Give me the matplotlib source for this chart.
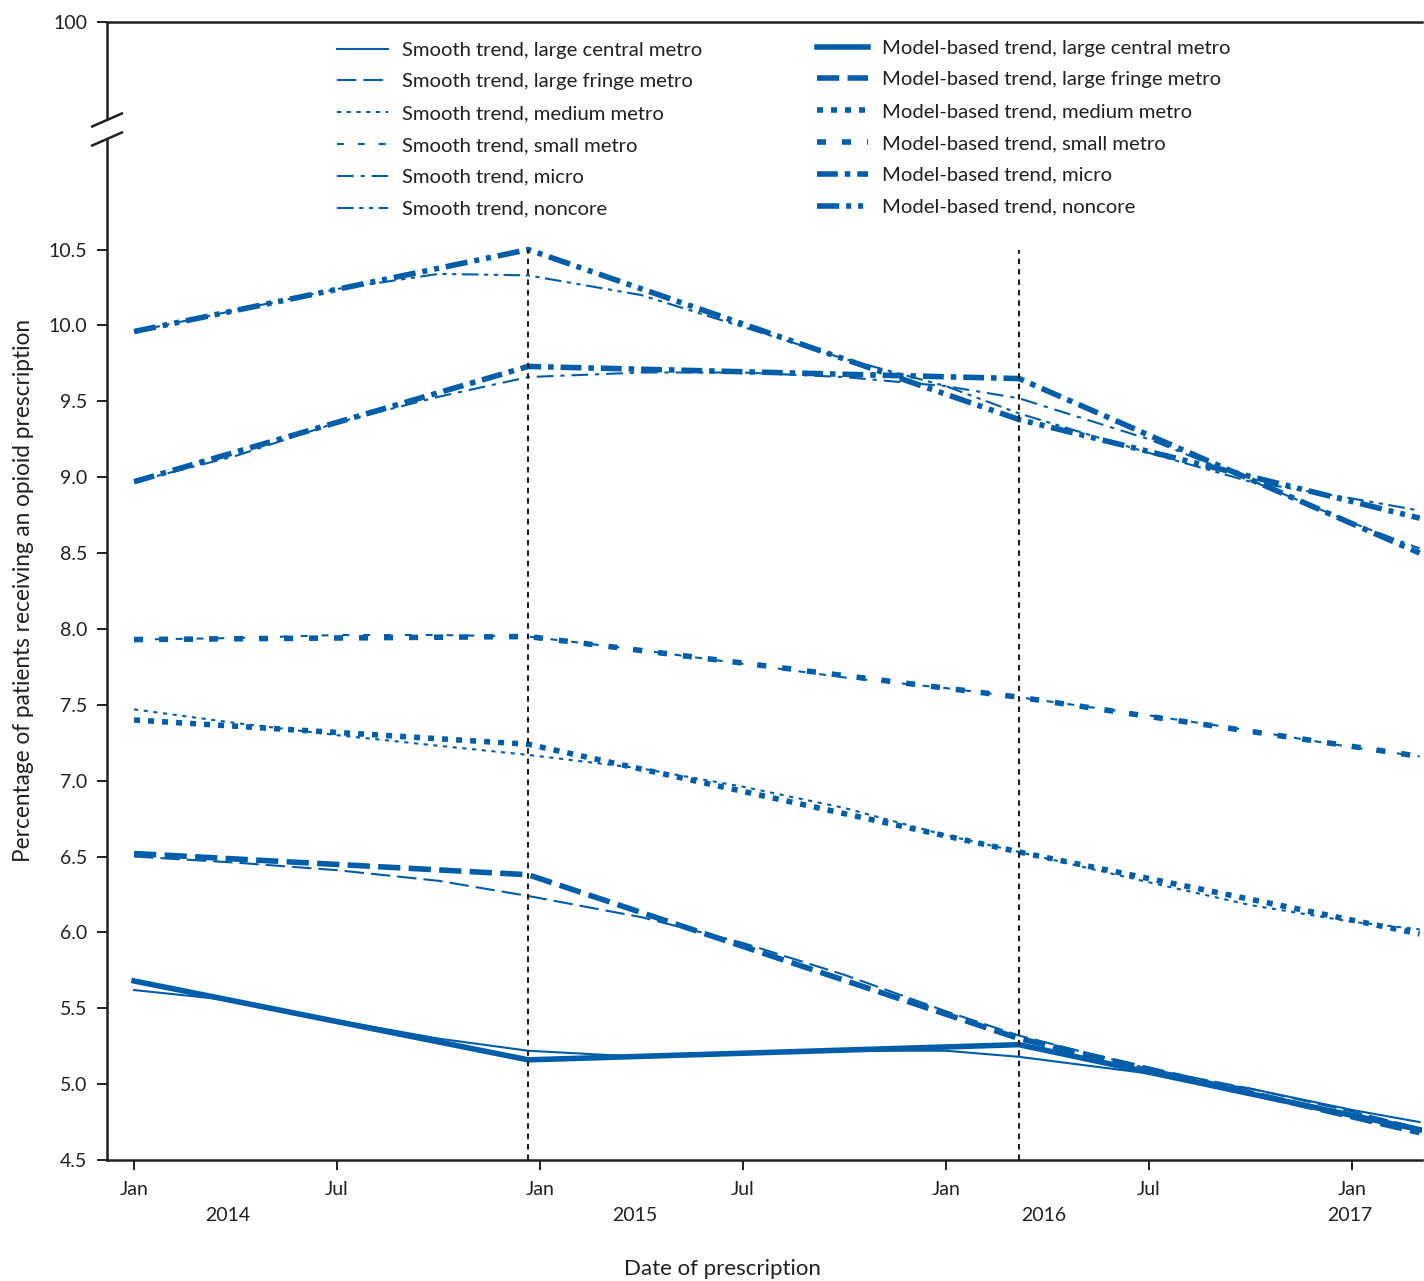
import matplotlib
matplotlib.use('Agg')
import matplotlib.pyplot as plt
import matplotlib.transforms as mtransforms
from matplotlib.lines import Line2D

plt.rcParams['font.family'] = ['Lato', 'DejaVu Sans']
plt.rcParams['lines.scale_dashes'] = False

BLUE = '#005DAA'
INK = '#231F20'

# x = months since January 2014
smooth_months = [0, 3, 6, 9, 11.65, 15, 18, 21, 24, 26.16, 30, 33, 36, 38]
smooth_large_central = [5.62, 5.55, 5.42, 5.30, 5.22, 5.18, 5.20, 5.22, 5.22, 5.18, 5.07, 4.97, 4.83, 4.75]
smooth_large_fringe = [6.50, 6.46, 6.41, 6.34, 6.24, 6.10, 5.93, 5.72, 5.48, 5.32, 5.10, 4.97, 4.82, 4.71]
smooth_medium = [7.47, 7.38, 7.30, 7.23, 7.17, 7.08, 6.96, 6.82, 6.64, 6.53, 6.33, 6.18, 6.07, 6.02]
smooth_small = [7.93, 7.94, 7.96, 7.96, 7.95, 7.86, 7.77, 7.68, 7.61, 7.55, 7.43, 7.33, 7.22, 7.16]
smooth_micro = [8.97, 9.14, 9.36, 9.53, 9.66, 9.69, 9.69, 9.66, 9.60, 9.52, 9.25, 8.98, 8.70, 8.53]
smooth_noncore = [9.96, 10.10, 10.24, 10.34, 10.33, 10.20, 9.99, 9.78, 9.60, 9.42, 9.16, 8.97, 8.86, 8.78]

model_months = [0, 11.65, 26.16, 38]
model_large_central = [5.68, 5.16, 5.26, 4.70]
model_large_fringe = [6.52, 6.38, 5.30, 4.68]
model_medium = [7.40, 7.24, 6.53, 5.99]
model_small = [7.93, 7.95, 7.55, 7.16]
model_micro = [8.97, 9.73, 9.65, 8.50]
model_noncore = [9.96, 10.50, 9.38, 8.73]

event_months = [11.65, 26.16]
event_top = 10.5

categories = ['large central metro', 'large fringe metro', 'medium metro',
              'small metro', 'micro', 'noncore']
smooth_series = [smooth_large_central, smooth_large_fringe, smooth_medium,
                 smooth_small, smooth_micro, smooth_noncore]
model_series = [model_large_central, model_large_fringe, model_medium,
                model_small, model_micro, model_noncore]

smooth_styles = ['-', (0, (14, 5)), (0, (3, 4)), (0, (5, 10)),
                 (0, (12, 5, 3, 5)), (0, (12, 4, 3, 4, 3, 4))]
model_styles = ['-', (0, (16, 6)), (0, (4.3, 5.8)), (0, (6.5, 11.5)),
                (0, (15, 5, 4, 5)), (0, (16, 5, 3.6, 5, 3.6, 5))]

y_ticks = [4.5, 5.0, 5.5, 6.0, 6.5, 7.0, 7.5, 8.0, 8.5, 9.0, 9.5, 10.0, 10.5, 12.0]
y_ticklabels = ['4.5', '5.0', '5.5', '6.0', '6.5', '7.0', '7.5', '8.0', '8.5',
                '9.0', '9.5', '10.0', '10.5', '100']
x_ticks = [0, 6, 12, 18, 24, 30, 36]
x_ticklabels = ['Jan', 'Jul', 'Jan', 'Jul', 'Jan', 'Jul', 'Jan']
years = ['2014', '2015', '2016', '2017']
year_pos = [2.78, 14.8, 26.9, 35.94]

W, H = 1424, 1281
fig = plt.figure(figsize=(W / 100, H / 100), dpi=100)
ax = fig.add_axes([107 / W, 1 - 1160 / H, 1315 / W, 1138 / H])

smooth_handles = []
model_handles = []
for name, ys, ls in zip(categories, model_series, model_styles):
    h, = ax.plot(model_months, ys, color=BLUE, lw=4.0, linestyle=ls,
                 solid_joinstyle='round', label='Model-based trend, ' + name)
    model_handles.append(h)
for name, ys, ls in zip(categories, smooth_series, smooth_styles):
    h, = ax.plot(smooth_months, ys, color=BLUE, lw=1.5, linestyle=ls,
                 label='Smooth trend, ' + name)
    smooth_handles.append(h)

ax.vlines(event_months, 4.5, event_top, colors=INK, lw=1.5,
          linestyles=[(0, (4, 3.5))])

ax.set_xlim(-0.8, 38.07)
ax.set_ylim(4.5, 12.0)
ax.set_yticks(y_ticks)
ax.set_yticklabels(y_ticklabels)
ax.set_xticks(x_ticks)
ax.set_xticklabels(x_ticklabels)
ax.tick_params(axis='both', direction='out', length=7.2, width=1.4,
               color=INK, labelcolor=INK, labelsize=14)
ax.tick_params(axis='y', pad=7)
ax.tick_params(axis='x', pad=8)

for s in ['top', 'bottom', 'left']:
    ax.spines[s].set_linewidth(1.8)
    ax.spines[s].set_color(INK)
ax.spines['right'].set_visible(False)
ax.spines['left'].set_bounds(4.5, 11.232)

# upper piece of broken y axis and break marks (figure pixels)
def fpx(x, y):
    return x / W, 1 - y / H

for (x0, y0), (x1, y1) in [((107, 22), (107, 120)),
                           ((91, 127), (123, 113)),
                           ((91, 146), (123, 132))]:
    a, b = fpx(x0, y0)
    c, d = fpx(x1, y1)
    fig.add_artist(Line2D([a, c], [b, d], transform=fig.transFigure,
                          color=INK, lw=1.8, solid_capstyle='butt'))

trans = mtransforms.blended_transform_factory(ax.transData, ax.transAxes)
for yr, xp in zip(years, year_pos):
    ax.text(xp, -0.049, yr, transform=trans, ha='center', va='center',
            fontsize=14, color=INK)

ax.set_ylabel('Percentage of patients receiving an opioid prescription',
              fontsize=16.3, color=INK)
ax.yaxis.set_label_coords(-0.0555, 0.5)
ax.set_xlabel('Date of prescription', fontsize=16, color=INK)
ax.xaxis.set_label_coords(0.4677, -0.087)

common = dict(frameon=False, handlelength=2.5, handletextpad=0.72,
              labelspacing=0.72, borderpad=0, borderaxespad=0,
              fontsize=14.6, bbox_transform=fig.transFigure, loc='upper left')
leg1 = ax.legend(handles=smooth_handles, bbox_to_anchor=fpx(337, 41.5), **common)
for t in leg1.get_texts():
    t.set_color(INK)
ax.add_artist(leg1)
leg2 = ax.legend(handles=model_handles, bbox_to_anchor=fpx(817, 39.5), **common)
for t in leg2.get_texts():
    t.set_color(INK)

fig.savefig('out.png', dpi=100)
